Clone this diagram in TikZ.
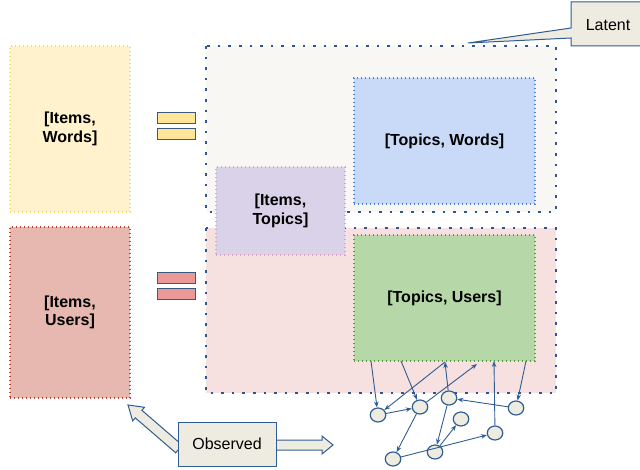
\documentclass[tikz,border=0pt]{standalone}
\usepackage{fontspec}
\setmainfont{Liberation Sans}
\usetikzlibrary{shapes.geometric,arrows.meta}

\definecolor{regionblue}{HTML}{2B5693}
\definecolor{edgeblue}{HTML}{2F5D93}
\definecolor{calloutfill}{HTML}{EEECE1}
\definecolor{latentfill}{HTML}{F8F7F3}
\definecolor{pinkfill}{HTML}{F6E0E0}
\definecolor{wordsfill}{HTML}{FFF2CC}
\definecolor{wordsline}{HTML}{FFD966}
\definecolor{usersfill}{HTML}{E6B8AF}
\definecolor{usersline}{HTML}{B7412A}
\definecolor{twfill}{HTML}{C9DAF8}
\definecolor{twline}{HTML}{4A7FD8}
\definecolor{itfill}{HTML}{D9D2E9}
\definecolor{itline}{HTML}{E0A3BF}
\definecolor{tufill}{HTML}{B6D7A8}
\definecolor{tuline}{HTML}{5A9A3F}
\definecolor{baryellow}{HTML}{FFE599}
\definecolor{barred}{HTML}{EA9999}
\definecolor{barline}{HTML}{3C5A7F}

\tikzset{
  region/.style={draw=regionblue, line width=2.6pt, dash pattern=on 2.6pt off 8pt},
  matrixbox/.style={line width=1.3pt, dash pattern=on 1.3pt off 2.7pt, inner sep=0pt,
    align=center, font=\fontsize{16}{18.5}\selectfont\bfseries},
  bar/.style={draw=barline, line width=1pt},
  dagnode/.style={ellipse, draw=edgeblue, fill=calloutfill, line width=1.2pt,
    minimum width=15.5pt, minimum height=14pt, inner sep=0pt},
  dagedge/.style={draw=edgeblue, line width=0.9pt, -{Stealth[length=6pt,width=4.5pt]}},
  callout/.style={draw=edgeblue, fill=calloutfill, line width=1pt},
  calltext/.style={font=\fontsize{16}{18.5}\selectfont, inner sep=0pt}
}

\begin{document}
\begin{tikzpicture}[x=1pt,y=-1pt]
\useasboundingbox (0,0) rectangle (640,470);

% latent and observed regions
\fill[latentfill] (206,46) rectangle (556,212);
\draw[region] (206,46) rectangle (556,212);
\fill[pinkfill] (206,228) rectangle (556,393);
\draw[region] (206,228) rectangle (556,393);

% factor matrices
\node[matrixbox, draw=wordsline, fill=wordsfill, minimum width=120pt, minimum height=166pt]
  (iw) at (70,129) {[Items,\\Words]};
\node[matrixbox, draw=usersline, fill=usersfill, minimum width=120pt, minimum height=171pt]
  (iu) at (70,312.5) {[Items,\\Users]};
\node[matrixbox, draw=twline, fill=twfill, minimum width=181pt, minimum height=126pt]
  (tw) at (444.5,141) {[Topics, Words]};
\node[matrixbox, draw=tuline, fill=tufill, minimum width=181pt, minimum height=126pt]
  (tu) at (444.5,298) {[Topics, Users]};
\node[matrixbox, draw=itline, fill=itfill, minimum width=129pt, minimum height=88pt]
  (it) at (280.5,211) {[Items,\\Topics]};

% equals signs
\draw[bar, fill=baryellow] (157,113) rectangle (195,124);
\draw[bar, fill=baryellow] (157,129) rectangle (195,140);
\draw[bar, fill=barred] (157,273) rectangle (195,284);
\draw[bar, fill=barred] (157,289) rectangle (195,300);

% graph nodes
\node[dagnode] (c1) at (378,415) {};
\node[dagnode] (c2) at (420,407) {};
\node[dagnode] (c3) at (449,398) {};
\node[dagnode] (c4) at (461,419) {};
\node[dagnode] (c5) at (516,408) {};
\node[dagnode] (c6) at (495,433) {};
\node[dagnode] (c7) at (435,452) {};
\node[dagnode] (c8) at (393,459) {};

% anchor points under the [Topics, Users] block
\coordinate (t1) at (371,361);
\coordinate (t2) at (401,361);
\coordinate (t3) at (445,362);
\coordinate (t4) at (477,364);
\coordinate (t5) at (494,361);
\coordinate (t6) at (526,361);

% graph edges
\draw[dagedge] (t1) -- (c1);
\draw[dagedge] (t2) -- (c2);
\draw[dagedge] (t3) -- (c1);
\draw[dagedge] (c3) -- (t3);
\draw[dagedge] (c2) -- (t4);
\draw[dagedge] (c6) -- (t5);
\draw[dagedge] (t6) -- (c5);
\draw[dagedge] (c5) -- (c3);
\draw[dagedge] (c1) -- (c2);
\draw[dagedge] (c2) -- (c8);
\draw[dagedge] (c3) -- (c7);
\draw[dagedge] (c7) -- (c4);
\draw[dagedge] (c8) -- (c6);

% Latent callout
\draw[callout] (571,2) -- (641,2) -- (641,46) -- (571,46) -- (571,38)
  -- (468,43) -- (571,28) -- cycle;
\node[calltext] (latent) at (608,25) {Latent};

% Observed callout with its two block arrows
\draw[callout] (182.3,445.2) -- (141.9,410.3) -- (144.5,407.3) -- (128,405)
  -- (132.7,420.9) -- (135.3,417.9) -- (175.7,452.8) -- cycle;
\draw[callout] (270,440) -- (322,440) -- (322,436) -- (333,445)
  -- (322,454) -- (322,450) -- (270,450) -- cycle;
\node[callout, calltext, minimum width=98pt, minimum height=44pt]
  (observed) at (227,444) {Observed};
\end{tikzpicture}
\end{document}
